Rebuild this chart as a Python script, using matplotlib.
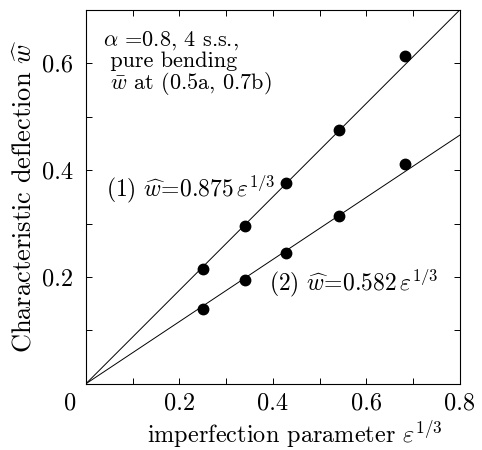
"""Characteristic deflection vs imperfection parameter, with linear fits."""

import matplotlib
matplotlib.use("Agg")
import matplotlib.pyplot as plt
from matplotlib.ticker import MultipleLocator

plt.rcParams["font.family"] = ["cmr10", "DejaVu Serif"]
plt.rcParams["mathtext.fontset"] = "cm"
plt.rcParams["axes.formatter.use_mathtext"] = True

# measured points, x = eps^(1/3)
eps13 = [0.25, 0.34, 0.428, 0.541, 0.683]
w_case1 = [0.215, 0.295, 0.376, 0.476, 0.613]
w_case2 = [0.140, 0.194, 0.245, 0.315, 0.412]

# fitted slopes
slope1 = 0.875
slope2 = 0.582
fit_x = [0.0, 0.8]

x_ticks = [0.2, 0.4, 0.6, 0.8]
y_ticks = [0.2, 0.4, 0.6]

fig = plt.figure(figsize=(4.82, 4.5), dpi=100)
ax = fig.add_axes([0.178, 0.147, 0.776, 0.831])

ax.plot(fit_x, [slope1 * x for x in fit_x], color="black", lw=0.7)
ax.plot(fit_x, [slope2 * x for x in fit_x], color="black", lw=0.7)
ax.plot(eps13, w_case1, "o", color="black", ms=7.5)
ax.plot(eps13, w_case2, "o", color="black", ms=7.5)

ax.set_xlim(0, 0.8)
ax.set_ylim(0, 0.7)
ax.set_xticks(x_ticks)
ax.set_xticklabels([f"{t:.1f}" for t in x_ticks])
ax.set_yticks(y_ticks)
ax.set_yticklabels([f"{t:.1f}" for t in y_ticks])
ax.xaxis.set_minor_locator(MultipleLocator(0.1))
ax.yaxis.set_minor_locator(MultipleLocator(0.1))
ax.tick_params(which="both", direction="in", top=True, right=True,
               length=4.5, width=0.7, labelsize=17.5)
ax.tick_params(axis="x", pad=6)
ax.tick_params(axis="y", pad=9)
for s in ax.spines.values():
    s.set_linewidth(0.8)

ax.text(-0.043, -0.022, "0", transform=ax.transAxes, fontsize=17.5,
        ha="center", va="top")

ax.set_xlabel(r"imperfection parameter $\varepsilon^{1/3}$", fontsize=17.5, labelpad=0)
ax.xaxis.set_label_coords(0.56, -0.092)
ax.set_ylabel(r"Characteristic deflection $\widehat{w}$", fontsize=19, labelpad=4)

ax.text(0.036, 0.664,
        "$\\alpha$ =0.8, 4 s.s.,\n pure bending\n $\\bar{w}$ at (0.5a, 0.7b)",
        fontsize=16, va="top", ha="left", linespacing=0.95)

ax.text(0.043, 0.365, r"(1) $\widehat{w}$=0.875$\,\varepsilon^{1/3}$", fontsize=17, va="center")
ax.text(0.392, 0.19, r"(2) $\widehat{w}$=0.582$\,\varepsilon^{1/3}$", fontsize=17, va="center")

fig.savefig("out.png", dpi=100)
